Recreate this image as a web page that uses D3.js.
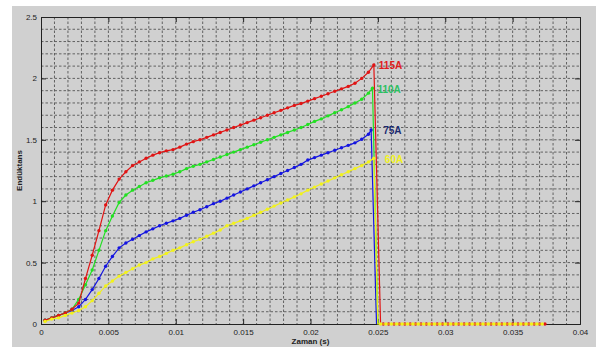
<!DOCTYPE html>
<html>
<head>
<meta charset="utf-8">
<script src="https://cdn.jsdelivr.net/npm/d3@7"></script>
<style>
  body { margin: 0; background: #fff; }
  text { font-family: Arial, "Liberation Sans", sans-serif; }
</style>
</head>
<body>
<svg id="chart" width="596" height="347"></svg>
<script>
// sample times shared by the rising part of every curve
const time = [0.0003, 0.0008, 0.0013, 0.0018, 0.0023, 0.0028, 0.0033, 0.0038, 0.0043, 0.0048,
  0.0053, 0.0058, 0.0063, 0.0068, 0.0073, 0.0078, 0.0083, 0.0088, 0.0093, 0.0098,
  0.0103, 0.0108, 0.0113, 0.0118, 0.0123, 0.0128, 0.0133, 0.0138, 0.0143, 0.0148,
  0.0153, 0.0158, 0.0163, 0.0168, 0.0173, 0.0178, 0.0183, 0.0188, 0.0193, 0.0198,
  0.0203, 0.0208, 0.0213, 0.0218, 0.0223, 0.0228, 0.0233, 0.0238, 0.0243];

const l115 = [0.03, 0.05, 0.07, 0.09, 0.12, 0.17, 0.37, 0.56, 0.76, 0.97,
  1.09, 1.18, 1.24, 1.29, 1.32, 1.35, 1.375, 1.395, 1.41, 1.42,
  1.44, 1.465, 1.485, 1.50, 1.52, 1.54, 1.56, 1.58, 1.60, 1.62,
  1.64, 1.66, 1.68, 1.70, 1.72, 1.74, 1.76, 1.78, 1.795, 1.815,
  1.835, 1.855, 1.875, 1.895, 1.915, 1.935, 1.96, 2.00, 2.05];
const l110 = [0.03, 0.05, 0.07, 0.09, 0.12, 0.2, 0.32, 0.44, 0.60, 0.76,
  0.88, 0.99, 1.05, 1.09, 1.12, 1.15, 1.17, 1.19, 1.205, 1.22,
  1.24, 1.265, 1.285, 1.30, 1.32, 1.34, 1.36, 1.38, 1.40, 1.42,
  1.44, 1.46, 1.48, 1.50, 1.52, 1.54, 1.56, 1.58, 1.60, 1.625,
  1.65, 1.67, 1.695, 1.72, 1.745, 1.77, 1.80, 1.83, 1.88];
const l75 = [0.03, 0.05, 0.07, 0.09, 0.11, 0.14, 0.20, 0.28, 0.37, 0.47,
  0.55, 0.62, 0.66, 0.69, 0.72, 0.75, 0.775, 0.80, 0.82, 0.84,
  0.86, 0.885, 0.91, 0.93, 0.955, 0.98, 1.00, 1.025, 1.05, 1.075,
  1.10, 1.125, 1.15, 1.175, 1.20, 1.225, 1.25, 1.275, 1.30, 1.335,
  1.355, 1.375, 1.395, 1.415, 1.435, 1.455, 1.475, 1.505, 1.545];
const l60 = [0.02, 0.04, 0.05, 0.07, 0.09, 0.11, 0.14, 0.19, 0.25, 0.31,
  0.35, 0.39, 0.42, 0.45, 0.48, 0.50, 0.53, 0.55, 0.575, 0.60,
  0.62, 0.645, 0.67, 0.69, 0.715, 0.74, 0.765, 0.80, 0.82, 0.84,
  0.86, 0.885, 0.91, 0.935, 0.96, 0.985, 1.01, 1.035, 1.06, 1.09,
  1.115, 1.14, 1.165, 1.19, 1.215, 1.24, 1.265, 1.29, 1.32];

// peak point, time the curve hits zero, and the zero tail
const peak115 = [0.0247, 2.11], drop115 = 0.0252;
const peak110 = [0.0246, 1.92], drop110 = 0.0250;
const peak75 = [0.0245, 1.58], drop75 = 0.0249;
const peak60 = [0.0247, 1.35], drop60 = 0.0250;
const tailRed = [0.0254, 0.0258, 0.0262, 0.0266, 0.0270, 0.0274, 0.0278, 0.0282, 0.0286, 0.0290,
  0.0294, 0.0298, 0.0302, 0.0306, 0.0310, 0.0314, 0.0318, 0.0322, 0.0326, 0.0330,
  0.0334, 0.0338, 0.0342, 0.0346, 0.0350, 0.0354, 0.0358, 0.0362, 0.0366, 0.0370, 0.0374];
const tailYellow = [0.0252, 0.0256, 0.0260, 0.0264, 0.0268, 0.0272, 0.0276, 0.0280, 0.0284, 0.0288,
  0.0292, 0.0296, 0.0300, 0.0304, 0.0308, 0.0312, 0.0316, 0.0320, 0.0324, 0.0328,
  0.0332, 0.0336, 0.0340, 0.0344, 0.0348, 0.0352, 0.0356, 0.0360, 0.0364, 0.0368, 0.0372];

const xTicks = [0, 0.005, 0.01, 0.015, 0.02, 0.025, 0.03, 0.035, 0.04];
const yTicks = [0, 0.5, 1, 1.5, 2, 2.5];

const series = [
  { name: '75A', values: l75, peak: peak75, drop: drop75, tail: [], color: '#1414e0', label: '#1b2a70', dx: 12, dy: 4 },
  { name: '110A', values: l110, peak: peak110, drop: drop110, tail: [], color: '#22e022', label: '#2cc060', dx: 5, dy: 5 },
  { name: '115A', values: l115, peak: peak115, drop: drop115, tail: tailRed, color: '#e01414', label: '#e01c1c', dx: 5, dy: 4 },
  { name: '60A', values: l60, peak: peak60, drop: drop60, tail: tailYellow, color: '#f2f21c', label: '#f2f21c', dx: 11, dy: 5 }
];

const svg = d3.select('#chart');
const margin = { left: 41, right: 16, top: 17, bottom: 23 };
const width = 596 - margin.left - margin.right;
const height = 347 - margin.top - margin.bottom;

svg.append('rect')
  .attr('x', 12).attr('y', 6)
  .attr('width', 584).attr('height', 341)
  .attr('fill', '#d0d0d0');

const g = svg.append('g').attr('transform', `translate(${margin.left},${margin.top})`);

const x = d3.scaleLinear().domain([0, 0.04]).range([0, width]);
const y = d3.scaleLinear().domain([0, 2.5]).range([height, 0]);

// dashed grid, one line every 0.001 s and every 0.1
g.append('g').selectAll('line')
  .data(d3.range(1, 40).map(i => i / 1000))
  .join('line')
  .attr('x1', d => x(d)).attr('x2', d => x(d))
  .attr('y1', 0).attr('y2', height)
  .attr('stroke', '#555').attr('stroke-width', 0.9)
  .attr('stroke-dasharray', '2.5,2');
g.append('g').selectAll('line')
  .data(d3.range(1, 25).map(i => i / 10))
  .join('line')
  .attr('x1', 0).attr('x2', width)
  .attr('y1', d => y(d)).attr('y2', d => y(d))
  .attr('stroke', '#555').attr('stroke-width', 0.9)
  .attr('stroke-dasharray', '2.5,2');

// axes
g.append('g')
  .attr('transform', `translate(0,${height})`)
  .call(d3.axisBottom(x).tickValues(xTicks).tickFormat(d => d === 0 ? '0' : String(+d.toFixed(3))).tickSize(-5).tickPadding(5));
g.append('g')
  .call(d3.axisLeft(y).tickValues(yTicks).tickFormat(d => String(d)).tickSize(-5).tickPadding(4));
g.append('g').call(d3.axisTop(x).tickValues(xTicks).tickFormat('').tickSize(-5));
g.append('g').attr('transform', `translate(${width},0)`)
  .call(d3.axisRight(y).tickValues(yTicks).tickFormat('').tickSize(-5));

g.selectAll('.domain').attr('stroke', '#222').attr('stroke-width', 1);
g.selectAll('.tick line').attr('stroke', '#222');
g.selectAll('.tick text').attr('font-size', 8).attr('fill', '#222');

// curves
const line = d3.line().x(d => x(d[0])).y(d => y(d[1]));

series.forEach(s => {
  const pts = time.map((t, i) => [t, s.values[i]]);
  pts.push(s.peak);
  const path = pts.concat([[s.drop, 0]]);
  const marks = pts.slice();
  s.tail.forEach(t => {
    path.push([t, 0]);
    marks.push([t, 0]);
  });
  g.append('path')
    .datum(path)
    .attr('fill', 'none')
    .attr('stroke', s.color)
    .attr('stroke-width', 1.2)
    .attr('d', line);
  g.append('g').selectAll('circle')
    .data(marks)
    .join('circle')
    .attr('cx', d => x(d[0]))
    .attr('cy', d => y(d[1]))
    .attr('r', 1.7)
    .attr('fill', s.color);
});

// labels at curve ends
series.forEach(s => {
  g.append('text')
    .attr('x', x(s.peak[0]) + s.dx)
    .attr('y', y(s.peak[1]) + s.dy)
    .attr('font-size', 10)
    .attr('font-weight', 'bold')
    .attr('fill', s.label)
    .text(s.name);
});

svg.append('text')
  .attr('x', margin.left + width / 2)
  .attr('y', 344)
  .attr('text-anchor', 'middle')
  .attr('font-size', 8)
  .attr('font-weight', 'bold')
  .attr('fill', '#222')
  .text('Zaman (s)');

svg.append('text')
  .attr('transform', `translate(22,${margin.top + height / 2}) rotate(-90)`)
  .attr('text-anchor', 'middle')
  .attr('font-size', 8)
  .attr('font-weight', 'bold')
  .attr('fill', '#222')
  .text('Endüktans');
</script>
</body>
</html>
